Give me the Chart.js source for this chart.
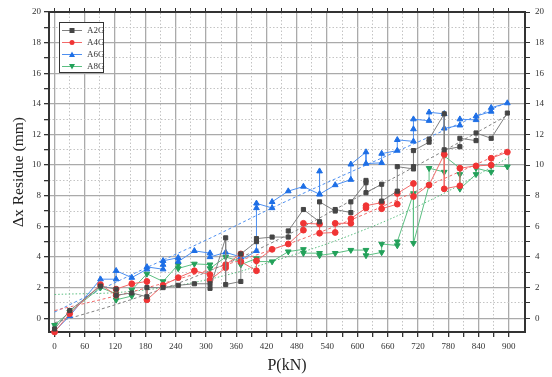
<!DOCTYPE html>
<html>
<head>
<meta charset="utf-8">
<script src="https://cdn.jsdelivr.net/npm/chart.js@4.4.0/dist/chart.umd.min.js"></script>
<style>
  html, body { margin: 0; padding: 0; background: #fff; }
  #wrap { width: 552px; height: 377px; }
</style>
</head>
<body>
<div id="wrap"><canvas id="myChart" width="552" height="377"></canvas></div>
<script>
// load steps (kN), each series has one or more readings per step
let loads = [0, 30, 91, 122, 153, 183, 215, 245, 277, 308, 339, 369, 400, 431, 463,
  493, 525, 556, 587, 617, 648, 679, 711, 742, 772, 803, 835, 865, 897];

let seriesNames = ['A2G', 'A4G', 'A6G', 'A8G'];

let a2g = [[-0.7], [0.5], [2.1], [1.9, 1.5], [1.65], [1.4, 2.0], [2.0], [2.15], [2.25], [2.25, 1.95],
  [5.25, 2.2], [2.4, 4.2], [5.0, 5.2], [5.3], [5.3, 5.7], [7.1], [6.3, 7.6], [7.0, 7.1], [6.9, 7.6],
  [8.85, 9.0, 8.2], [8.75, 7.65], [8.3, 9.9], [9.75, 9.9, 10.95], [11.5, 11.7], [13.35, 11.0],
  [11.2, 11.75], [11.6, 12.1], [11.75], [13.4]];

let a4g = [[-0.9], [0.3], [2.2], [1.5, 1.9], [2.25], [2.4, 1.2], [2.15], [2.65], [3.1], [2.85, 2.5],
  [3.3, 3.5], [4.2, 3.7], [3.1, 3.75], [4.5], [4.85], [5.75, 6.2], [6.15, 5.55], [5.6, 6.2], [6.2, 6.5],
  [7.2, 7.35], [7.55, 7.15], [7.45, 8.15], [8.8, 7.95], [8.7], [10.7, 8.45], [8.65, 9.8], [9.95],
  [10.0, 10.45], [10.85]];

let a6g = [[-0.85], [0.15], [2.55], [2.55, 3.1], [2.65], [3.2, 3.35], [3.2, 3.5, 3.75], [3.95, 3.7],
  [4.4], [4.25, 4.0], [4.3], [4.0, 3.8], [4.4, 7.2, 7.5], [7.2, 7.6], [8.3], [8.6], [8.1, 9.6, 8.1],
  [8.7], [9.05, 10.05], [10.85, 10.1], [10.15, 10.75], [10.95, 11.65], [11.55, 12.35, 13.0],
  [12.9, 13.45], [13.35, 12.4], [12.6, 13.0], [12.95, 13.2], [13.5, 13.75], [14.05]];

let a8g = [[-0.45], [0.4], [2.0], [1.6, 1.2], [1.45, 1.85], [2.9], [2.4], [3.5, 3.25], [3.55], [3.5, 3.25],
  [4.0], [3.7, 3.5], [3.9, 3.7], [3.7], [4.35], [4.5, 4.25], [4.25, 4.1], [4.25], [4.45], [4.45, 4.1],
  [4.3, 4.85], [4.75, 5.0], [8.15, 4.9], [8.7, 9.8], [9.55, 10.6], [9.8, 9.4, 8.45], [9.4, 9.8],
  [9.55, 9.95], [9.9]];

// fitted trend curves
let fitLoads = [0, 150, 300, 450, 600, 750, 900];
let a2gFit = [-0.3, 1.2, 3.0, 5.25, 7.9, 10.55, 13.3];
let a4gFit = [0.5, 1.7, 3.1, 4.7, 6.6, 8.8, 11.0];
let a6gFit = [0.4, 2.8, 5.1, 7.5, 9.75, 11.95, 14.15];
let a8gFit = [1.55, 1.75, 2.5, 3.9, 5.6, 7.8, 10.5];

let xTicks = [0, 30, 60, 90, 120, 150, 180, 210, 240, 270, 300, 330, 360, 390, 420, 450,
  480, 510, 540, 570, 600, 630, 660, 690, 720, 750, 780, 810, 840, 870, 900];
let yTicks = [0, 1, 2, 3, 4, 5, 6, 7, 8, 9, 10, 11, 12, 13, 14, 15, 16, 17, 18, 19, 20];

function toPoints(steps) {
  let pts = [];
  steps.forEach((vals, i) => vals.forEach(v => pts.push({ x: loads[i], y: v })));
  return pts;
}
function fitPoints(vals) {
  return fitLoads.map((x, i) => ({ x: x, y: vals[i] }));
}

let marker = ['#454545', '#f03434', '#1e6fe6', '#23a15a'];
let lineCol = ['#808080', '#f26a6a', '#4d8ff0', '#5cbf82'];
let styles = ['rect', 'circle', 'triangle', 'triangle'];
let rots = [0, 0, 0, 180];
let values = [a2g, a4g, a6g, a8g];
let fits = [a2gFit, a4gFit, a6gFit, a8gFit];

let datasets = [];
values.forEach((v, i) => {
  datasets.push({
    label: seriesNames[i],
    data: toPoints(v),
    showLine: true,
    borderColor: lineCol[i],
    borderWidth: 1,
    backgroundColor: marker[i],
    pointBorderColor: marker[i],
    pointBackgroundColor: marker[i],
    pointStyle: styles[i],
    rotation: rots[i],
    pointRadius: i >= 2 ? 3.3 : 2.9,
    pointBorderWidth: 1,
    tension: 0,
    clip: false,
    order: 1
  });
});
fits.forEach((f, i) => {
  datasets.push({
    label: seriesNames[i] + ' fit',
    data: fitPoints(f),
    showLine: true,
    borderColor: lineCol[i],
    borderWidth: 1,
    borderDash: i == 3 ? [1.5, 2] : [3, 2.5],
    pointRadius: 0,
    tension: 0.4,
    order: 2
  });
});

const serif = "'Liberation Serif', 'DejaVu Serif', serif";
const tickFont = { family: serif, size: 9 };
const darkAxis = '#333';

const legendBox = {
  id: 'legendBox',
  afterDraw(chart) {
    const ctx = chart.ctx;
    ctx.save();
    ctx.fillStyle = '#fff';
    ctx.fillRect(59.5, 22.5, 44, 50);
    ctx.strokeStyle = '#333';
    ctx.lineWidth = 1;
    ctx.strokeRect(59.5, 22.5, 44, 50);
    seriesNames.forEach((name, i) => {
      const y = 30.5 + i * 12;
      ctx.strokeStyle = lineCol[i];
      ctx.beginPath();
      ctx.moveTo(62, y);
      ctx.lineTo(82, y);
      ctx.stroke();
      ctx.fillStyle = marker[i];
      ctx.beginPath();
      if (styles[i] === 'rect') {
        ctx.rect(69.5, y - 2.5, 5, 5);
      } else if (styles[i] === 'circle') {
        ctx.arc(72, y, 2.5, 0, Math.PI * 2);
      } else if (rots[i] === 0) {
        ctx.moveTo(72, y - 3); ctx.lineTo(75, y + 2.5); ctx.lineTo(69, y + 2.5); ctx.closePath();
      } else {
        ctx.moveTo(72, y + 3); ctx.lineTo(75, y - 2.5); ctx.lineTo(69, y - 2.5); ctx.closePath();
      }
      ctx.fill();
      ctx.fillStyle = '#333';
      ctx.font = '9px ' + serif;
      ctx.textBaseline = 'middle';
      ctx.fillText(name, 87, y + 0.5);
    });
    ctx.restore();
  }
};

let myChart = new Chart(document.getElementById('myChart'), {
  type: 'scatter',
  data: { datasets: datasets },
  plugins: [legendBox],
  options: {
    responsive: false,
    animation: false,
    layout: { padding: 0 },
    plugins: {
      legend: { display: false },
      tooltip: { enabled: false }
    },
    scales: {
      x: {
        type: 'linear',
        position: 'bottom',
        min: -11,
        max: 932,
        afterBuildTicks: s => { s.ticks = xTicks.map(v => ({ value: v })); },
        afterFit: s => { s.height = 45; },
        ticks: {
          font: tickFont,
          color: '#333',
          padding: 4,
          maxRotation: 0,
          autoSkip: false,
          callback: v => (v % 60 === 0 ? v : '')
        },
        grid: {
          color: c => (c.tick && c.tick.value % 60 === 0 ? '#aaaaaa' : 'rgba(0,0,0,0)'),
          lineWidth: 1.3,
          tickColor: darkAxis,
          tickLength: 5
        },
        border: { color: darkAxis, width: 2 },
        title: {
          display: true,
          text: 'P(kN)',
          color: '#222',
          font: { family: serif, size: 16 },
          padding: { top: 0, bottom: 2 }
        }
      },
      xTop: {
        type: 'linear',
        position: 'top',
        min: -11,
        max: 932,
        afterBuildTicks: s => { s.ticks = xTicks.map(v => ({ value: v })); },
        afterFit: s => { s.height = 12; },
        ticks: { display: false },
        grid: {
          color: c => (c.tick && c.tick.value % 60 !== 0 ? '#c4c4c4' : 'rgba(0,0,0,0)'),
          lineWidth: 1,
          tickColor: darkAxis,
          tickLength: 4
        },
        border: { color: darkAxis, width: 2, dash: [1.5, 2] }
      },
      y: {
        type: 'linear',
        position: 'left',
        min: -0.9,
        max: 20,
        afterBuildTicks: s => { s.ticks = yTicks.map(v => ({ value: v })); },
        afterFit: s => { s.width = 49; },
        ticks: {
          font: tickFont,
          color: '#333',
          padding: 3,
          autoSkip: false,
          callback: v => (v % 2 === 0 ? v : '')
        },
        grid: {
          color: c => (c.tick && c.tick.value % 2 === 0 ? '#aaaaaa' : 'rgba(0,0,0,0)'),
          lineWidth: 1.3,
          tickColor: darkAxis,
          tickLength: 5
        },
        border: { color: darkAxis, width: 2 },
        title: {
          display: true,
          text: 'Δx Residue (mm)',
          color: '#222',
          font: { family: serif, size: 15.5 },
          padding: { top: 10, bottom: 0 }
        }
      },
      yRight: {
        type: 'linear',
        position: 'right',
        min: -0.9,
        max: 20,
        afterBuildTicks: s => { s.ticks = yTicks.map(v => ({ value: v })); },
        afterFit: s => { s.width = 27; },
        ticks: {
          font: tickFont,
          color: '#333',
          padding: 5,
          autoSkip: false,
          callback: v => (v % 2 === 0 ? v : '')
        },
        grid: {
          color: c => (c.tick && c.tick.value % 2 !== 0 ? '#c4c4c4' : 'rgba(0,0,0,0)'),
          lineWidth: 1,
          tickColor: darkAxis,
          tickLength: 5
        },
        border: { color: darkAxis, width: 2, dash: [1.5, 2] }
      }
    }
  }
});
</script>
</body>
</html>
